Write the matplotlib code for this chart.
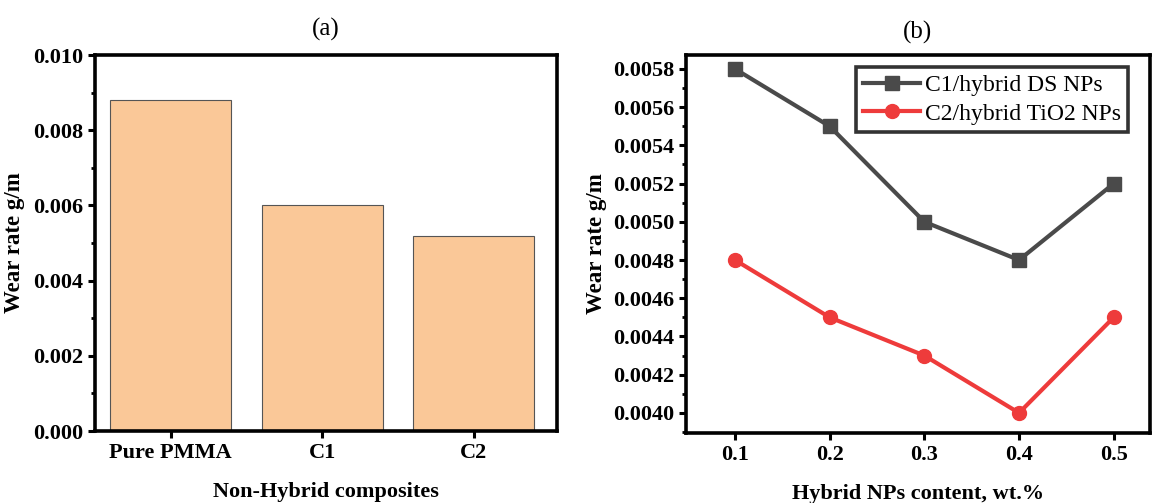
import numpy as np
import matplotlib
matplotlib.use('Agg')
from matplotlib import pyplot as plt
from matplotlib.ticker import MultipleLocator, FormatStrFormatter

plt.rcParams['font.family'] = ['Liberation Serif', 'DejaVu Serif']

# non-hybrid composites
groups = ['Pure PMMA', 'C1', 'C2']
wear_plain = [0.0088, 0.0060, 0.0052]

# hybrid NPs series
content = [0.1, 0.2, 0.3, 0.4, 0.5]
wear_ds = [0.0058, 0.0055, 0.0050, 0.0048, 0.0052]
wear_tio2 = [0.0048, 0.0045, 0.0043, 0.0040, 0.0045]

fig = plt.figure(figsize=(11.52, 5.03), dpi=100)
ax1 = fig.add_axes([0.0825, 0.1431, 0.401, 0.7475])
ax2 = fig.add_axes([0.5955, 0.1392, 0.4025, 0.7515])

def style(ax):
    for s in ax.spines.values():
        s.set_linewidth(2.6)
    ax.tick_params(which='major', direction='out', length=5, width=2.2, labelsize=16)
    ax.tick_params(which='minor', direction='out', length=3, width=2.0)
    for lab in ax.get_xticklabels() + ax.get_yticklabels():
        lab.set_fontweight('bold')

# (a)
ax1.bar(np.arange(len(groups)), wear_plain, width=0.8, color='#fac898', edgecolor='#555555', linewidth=0.8)
ax1.set_xlim(-0.5, 2.55)
ax1.set_ylim(0, 0.010)
ax1.set_xticks(np.arange(len(groups)))
ax1.set_xticklabels(groups)
ax1.yaxis.set_major_locator(MultipleLocator(0.002))
ax1.yaxis.set_minor_locator(MultipleLocator(0.001))
ax1.yaxis.set_major_formatter(FormatStrFormatter('%.3f'))
style(ax1)
ax1.set_ylabel('Wear rate g/m', fontsize=16.5, fontweight='bold', labelpad=6)
ax1.set_xlabel('Non-Hybrid composites', fontsize=16, fontweight='bold', labelpad=14)
ax1.set_title('(a)', fontsize=18, pad=14)

# (b)
ax2.plot(content, wear_ds, color='#4a4a4a', marker='s', markersize=10, linewidth=3, label='C1/hybrid DS NPs')
ax2.plot(content, wear_tio2, color='#ee3b3b', marker='o', markersize=10, linewidth=3, label='C2/hybrid TiO2 NPs')
ax2.set_xlim(0.0483, 0.538)
ax2.set_ylim(0.003895, 0.005873)
ax2.set_xticks(content)
ax2.xaxis.set_major_formatter(FormatStrFormatter('%.1f'))
ax2.yaxis.set_major_locator(MultipleLocator(0.0002))
ax2.yaxis.set_minor_locator(MultipleLocator(0.0001))
ax2.yaxis.set_major_formatter(FormatStrFormatter('%.4f'))
style(ax2)
ax2.set_ylabel('Wear rate g/m', fontsize=16.5, fontweight='bold', labelpad=4)
ax2.set_xlabel('Hybrid NPs content, wt.%', fontsize=16, fontweight='bold', labelpad=14)
ax2.set_title('(b)', fontsize=18, pad=12)
leg = ax2.legend(loc='upper right', bbox_to_anchor=(0.953, 0.967), fontsize=17, frameon=True, fancybox=False,
                 handlelength=2.4, handletextpad=0.2, borderpad=0.3, labelspacing=0.3, borderaxespad=0)
leg.get_frame().set_edgecolor('black')
leg.get_frame().set_linewidth(2.6)

fig.savefig('out.png', dpi=100)
